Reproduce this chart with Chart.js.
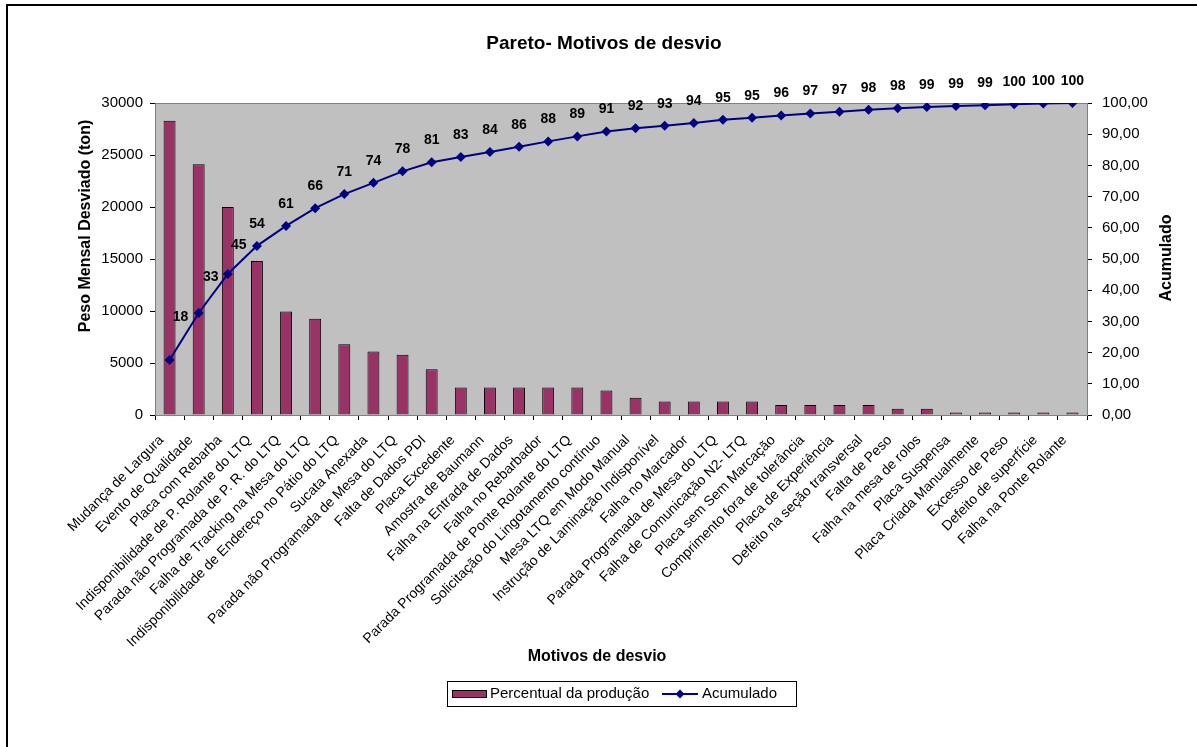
<!DOCTYPE html>
<html>
<head>
<meta charset="utf-8">
<script src="https://cdn.jsdelivr.net/npm/chart.js@4.4.1/dist/chart.umd.min.js"></script>
<style>
  body { margin: 0; background: #fff; }
  #wrap { width: 1197px; height: 747px; }
</style>
</head>
<body>
<div id="wrap"><canvas id="paretoChart" width="1197" height="747"></canvas></div>
<script>
// Motivos de desvio (categorias)
const motivos = [
    'Mudança de Largura', 'Evento de Qualidade', 'Placa com Rebarba',
    'Indisponibilidade de P. Rolante do LTQ', 'Parada não Programada de P. R. do LTQ',
    'Falha de Tracking na Mesa do LTQ', 'Indisponibilidade de Endereço no Pátio do LTQ',
    'Sucata Anexada', 'Parada não Programada de Mesa do LTQ', 'Falta de Dados PDI',
    'Placa Excedente', 'Amostra de Baumann', 'Falha na Entrada de Dados',
    'Falha no Rebarbador', 'Parada Programada de Ponte Rolante do LTQ',
    'Solicitação do Lingotamento contínuo', 'Mesa LTQ em Modo Manual',
    'Instrução de Laminação Indisponível', 'Falha no Marcador',
    'Parada Programada de Mesa do LTQ', 'Falha de Comunicação N2- LTQ',
    'Placa sem Sem Marcação', 'Comprimento fora de tolerância', 'Placa de Experiência',
    'Defeito na seção transversal', 'Falta de Peso', 'Falha na mesa de rolos',
    'Placa Suspensa', 'Placa Criada Manualmente', 'Excesso de Peso',
    'Defeito de superfície', 'Falha na Ponte Rolante'
];

// Peso mensal desviado (ton)
const pesoDesviado = [
    28300, 24100, 20000, 14800, 9950, 9250, 6800, 6100, 5800, 4400,
    2650, 2650, 2650, 2650, 2650, 2350, 1650, 1300, 1300, 1300,
    1300, 950, 950, 950, 950, 600, 600, 250, 250, 250, 250, 250
];

// Percentual acumulado
const acumulado = [
    17.6, 32.7, 45.2, 54.2, 60.6, 66.3, 70.8, 74.4, 78.1, 81.0,
    82.7, 84.3, 86.0, 87.7, 89.3, 90.9, 91.9, 92.7, 93.6, 94.6,
    95.3, 96.0, 96.6, 97.2, 97.8, 98.3, 98.7, 99.0, 99.3, 99.6,
    99.8, 100
];

const leftTicks = [0, 5000, 10000, 15000, 20000, 25000, 30000];
const rightTicks = [0, 10, 20, 30, 40, 50, 60, 70, 80, 90, 100];

const FONT = 'Arial, "Liberation Sans", sans-serif';
const BAR_COLOR = '#993366';
const LINE_COLOR = '#000080';

// Excel-like decorations: plot background, titles, data labels, legend, frame
const excelLook = {
    id: 'excelLook',
    beforeDatasetsDraw(chart) {
        const { ctx, chartArea: a } = chart;
        ctx.save();
        ctx.fillStyle = '#c0c0c0';
        ctx.fillRect(a.left, a.top, a.right - a.left, a.bottom - a.top);
        ctx.strokeStyle = '#808080';
        ctx.lineWidth = 1;
        ctx.strokeRect(a.left + 0.5, a.top + 0.5, a.right - a.left, a.bottom - a.top);
        ctx.restore();
    },
    afterDraw(chart) {
        const { ctx } = chart;
        ctx.save();

        // outer frame
        ctx.strokeStyle = '#000';
        ctx.lineWidth = 2;
        ctx.beginPath();
        ctx.moveTo(7, 747);
        ctx.lineTo(7, 5);
        ctx.lineTo(1197, 5);
        ctx.stroke();

        // titles
        ctx.fillStyle = '#000';
        ctx.textAlign = 'center';
        ctx.textBaseline = 'middle';
        ctx.font = 'bold 19px ' + FONT;
        ctx.fillText('Pareto- Motivos de desvio', 604, 44);
        ctx.font = 'bold 16px ' + FONT;
        ctx.fillText('Motivos de desvio', 597, 657);

        ctx.save();
        ctx.translate(86, 226);
        ctx.rotate(-Math.PI / 2);
        ctx.fillText('Peso Mensal Desviado (ton)', 0, 0);
        ctx.restore();

        ctx.save();
        ctx.translate(1167, 258);
        ctx.rotate(-Math.PI / 2);
        ctx.fillText('Acumulado', 0, 0);
        ctx.restore();

        // data labels on the cumulative line
        const meta = chart.getDatasetMeta(0);
        const shift = { 0: [11, -43], 1: [12, -36], 2: [11, -29] };
        ctx.font = 'bold 14px ' + FONT;
        meta.data.forEach((pt, i) => {
            const s = shift[i] || [0, -22];
            ctx.fillText(String(Math.round(acumulado[i])), pt.x + s[0], pt.y + s[1]);
        });

        // legend
        ctx.lineWidth = 1;
        ctx.strokeStyle = '#000';
        ctx.strokeRect(447.5, 681.5, 349, 25);
        ctx.fillStyle = BAR_COLOR;
        ctx.fillRect(452, 690, 35, 8);
        ctx.strokeRect(452.5, 690.5, 34, 7);
        ctx.fillStyle = '#000';
        ctx.textAlign = 'left';
        ctx.font = '15px ' + FONT;
        ctx.fillText('Percentual da produção', 490, 694);
        ctx.strokeStyle = LINE_COLOR;
        ctx.lineWidth = 2;
        ctx.beginPath();
        ctx.moveTo(662, 694);
        ctx.lineTo(698, 694);
        ctx.stroke();
        ctx.fillStyle = LINE_COLOR;
        ctx.beginPath();
        ctx.moveTo(680, 689.5);
        ctx.lineTo(684.5, 694);
        ctx.lineTo(680, 698.5);
        ctx.lineTo(675.5, 694);
        ctx.closePath();
        ctx.fill();
        ctx.fillStyle = '#000';
        ctx.fillText('Acumulado', 702, 694);

        ctx.restore();
    }
};

const ctx = document.getElementById('paretoChart').getContext('2d');
new Chart(ctx, {
    data: {
        labels: motivos,
        datasets: [
            {
                type: 'line',
                label: 'Acumulado',
                data: acumulado,
                yAxisID: 'yRight',
                borderColor: LINE_COLOR,
                backgroundColor: LINE_COLOR,
                borderWidth: 2,
                pointStyle: 'rectRot',
                pointRadius: 5,
                pointBorderWidth: 0,
                tension: 0,
                order: 0
            },
            {
                type: 'bar',
                label: 'Percentual da produção',
                data: pesoDesviado,
                yAxisID: 'yLeft',
                backgroundColor: BAR_COLOR,
                borderColor: '#000',
                borderWidth: 1,
                barPercentage: 0.41,
                categoryPercentage: 1,
                order: 1
            }
        ]
    },
    options: {
        responsive: false,
        animation: false,
        layout: { padding: { top: 103, left: 0, right: 0, bottom: 0 } },
        plugins: {
            legend: { display: false },
            title: { display: false },
            tooltip: { enabled: false }
        },
        scales: {
            x: {
                grid: { drawOnChartArea: false, drawTicks: true, tickLength: 5, color: '#000', offset: true },
                border: { display: true, color: '#000', width: 1 },
                ticks: {
                    autoSkip: false,
                    minRotation: 45,
                    maxRotation: 45,
                    padding: 12,
                    labelOffset: -8,
                    color: '#000',
                    font: { family: FONT, size: 14 }
                },
                afterFit(scale) { scale.height = 332; }
            },
            yLeft: {
                position: 'left',
                min: 0,
                max: 30000,
                afterBuildTicks(scale) { scale.ticks = leftTicks.map(v => ({ value: v })); },
                grid: { drawOnChartArea: false, tickLength: 5, color: '#000' },
                border: { display: true, color: '#000', width: 1 },
                ticks: {
                    padding: 7,
                    color: '#000',
                    font: { family: FONT, size: 15 },
                    callback: value => String(value)
                },
                afterFit(scale) { scale.width = 155; }
            },
            yRight: {
                position: 'right',
                min: 0,
                max: 100,
                afterBuildTicks(scale) { scale.ticks = rightTicks.map(v => ({ value: v })); },
                grid: { drawOnChartArea: false, tickLength: 5, color: '#000' },
                border: { display: true, color: '#000', width: 1 },
                ticks: {
                    padding: 10,
                    color: '#000',
                    font: { family: FONT, size: 15 },
                    callback: value => value.toFixed(2).replace('.', ',')
                },
                afterFit(scale) { scale.width = 110; }
            }
        }
    },
    plugins: [excelLook]
});
</script>
</body>
</html>
